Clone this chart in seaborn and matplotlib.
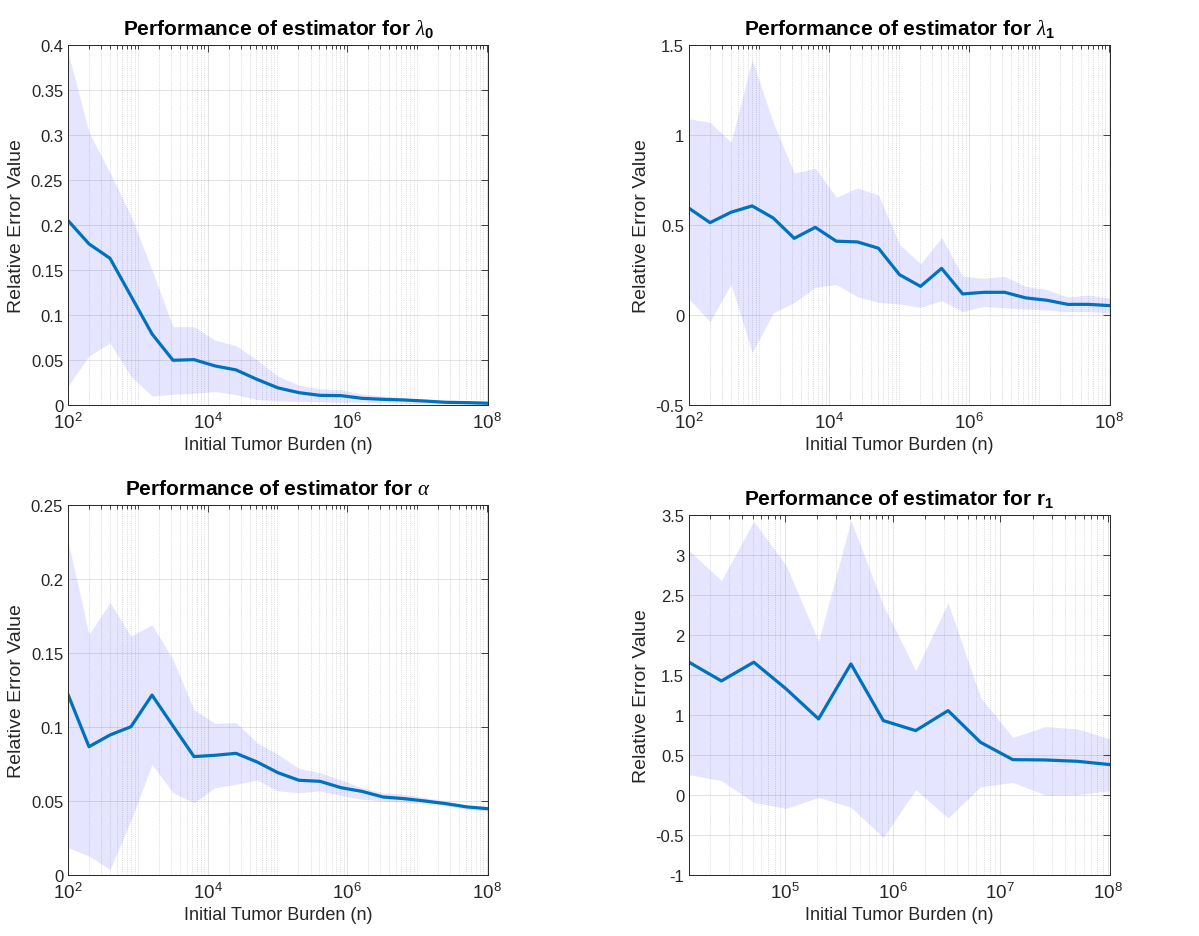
import numpy as np
import pandas as pd
import matplotlib
matplotlib.use('Agg')
import matplotlib.pyplot as plt
import seaborn as sns
from matplotlib.ticker import FixedLocator, FuncFormatter, MultipleLocator, NullFormatter

sns.set_theme(style='white')
plt.rcParams['font.family'] = ['Liberation Sans', 'DejaVu Sans']
plt.rcParams['mathtext.fontset'] = 'custom'
plt.rcParams['mathtext.rm'] = 'Liberation Sans'
plt.rcParams['mathtext.it'] = 'Liberation Serif:italic'
plt.rcParams['mathtext.bf'] = 'Liberation Sans:bold'

# initial tumour burden values (doubling from 100)
n_values = [100, 200, 400, 800, 1600, 3200, 6400, 12800, 25600, 51200, 102400,
            204800, 409600, 819200, 1638400, 3276800, 6553600, 13107200,
            26214400, 52428800, 104857600]

# lambda_0
lam0_mean = [0.205, 0.179, 0.163, 0.121, 0.079, 0.0497, 0.0504, 0.0434, 0.039, 0.0285,
             0.019, 0.0137, 0.0107, 0.0104, 0.0074, 0.0063, 0.0056, 0.0044, 0.003, 0.0026, 0.002]
lam0_upper = [0.392, 0.303, 0.258, 0.21, 0.15, 0.087, 0.087, 0.072, 0.066, 0.05,
              0.032, 0.022, 0.018, 0.017, 0.012, 0.01, 0.008, 0.006, 0.004, 0.003, 0.0025]
lam0_lower = [0.021, 0.0545, 0.069, 0.032, 0.01, 0.012, 0.013, 0.015, 0.0115, 0.006,
              0.0045, 0.004, 0.0037, 0.003, 0.003, 0.0025, 0.002, 0.0015, 0.001, 0.001, 0.001]

# lambda_1
lam1_mean = [0.593, 0.513, 0.571, 0.606, 0.539, 0.426, 0.487, 0.41, 0.406, 0.371,
             0.224, 0.159, 0.259, 0.117, 0.126, 0.126, 0.095, 0.082, 0.059, 0.059, 0.052]
lam1_upper = [1.09, 1.07, 0.96, 1.418, 1.07, 0.788, 0.816, 0.654, 0.706, 0.667,
              0.393, 0.284, 0.43, 0.215, 0.204, 0.215, 0.159, 0.141, 0.1, 0.111, 0.093]
lam1_lower = [0.089, -0.037, 0.172, -0.208, 0.011, 0.07, 0.154, 0.169, 0.102, 0.07,
              0.061, 0.043, 0.08, 0.019, 0.048, 0.039, 0.033, 0.028, 0.019, 0.019, 0.011]

# alpha
alpha_mean = [0.122, 0.0867, 0.0946, 0.1002, 0.1216, 0.1007, 0.08, 0.0809, 0.0822, 0.0764,
              0.0691, 0.064, 0.0633, 0.059, 0.0565, 0.0527, 0.0516, 0.05, 0.0482, 0.046, 0.0448]
alpha_upper = [0.2257, 0.1626, 0.184, 0.1615, 0.169, 0.1457, 0.1115, 0.1025, 0.103, 0.0894,
               0.0815, 0.072, 0.0691, 0.0642, 0.059, 0.0556, 0.0545, 0.0523, 0.05, 0.0471, 0.0462]
alpha_lower = [0.0185, 0.0128, 0.0038, 0.037, 0.0748, 0.0556, 0.0489, 0.059, 0.0613, 0.0642,
               0.0568, 0.0556, 0.0568, 0.0538, 0.0511, 0.05, 0.0493, 0.0482, 0.0466, 0.0444, 0.0432]

# r_1 (only from n = 12800)
r1_n = n_values[7:]
r1_mean = [1.66, 1.426, 1.66, 1.326, 0.951, 1.639, 0.93, 0.805, 1.055, 0.659,
           0.442, 0.438, 0.421, 0.38]
r1_upper = [3.057, 2.68, 3.42, 2.87, 1.92, 3.43, 2.37, 1.555, 2.4, 1.22,
            0.72, 0.855, 0.826, 0.70]
r1_lower = [0.254, 0.18, -0.092, -0.167, -0.03, -0.154, -0.53, 0.067, -0.288, 0.104,
            0.158, 0.0, 0.004, 0.054]

# x tick exponents shown on each panel
exp_even = [2, 4, 6, 8]
exp_r1 = [5, 6, 7, 8]

LINE = '#0072BD'
FILL = '#E5E5FF'
DARK = '#262626'

W, H = 1199, 937
fig = plt.figure(figsize=(W / 100, H / 100), dpi=100)


def px_rect(left, top, right, bottom):
    return [left / W, 1 - bottom / H, (right - left) / W, (bottom - top) / H]


def minor_ticks(lo, hi):
    out = []
    for e in range(1, 10):
        for m in range(1, 10):
            v = m * 10 ** e
            if lo <= v <= hi:
                out.append(v)
    return out


panels = [
    dict(rect=px_rect(68, 46, 488, 406), n=n_values, mean=lam0_mean, lo=lam0_lower, hi=lam0_upper,
         title=r'Performance of estimator for $\lambda_{\mathbf{0}}$', ylim=(0, 0.4), ystep=0.05,
         exps=exp_even),
    dict(rect=px_rect(689, 46, 1110, 406), n=n_values, mean=lam1_mean, lo=lam1_lower, hi=lam1_upper,
         title=r'Performance of estimator for $\lambda_{\mathbf{1}}$', ylim=(-0.5, 1.5), ystep=0.5,
         exps=exp_even),
    dict(rect=px_rect(68, 506, 488, 876), n=n_values, mean=alpha_mean, lo=alpha_lower, hi=alpha_upper,
         title=r'Performance of estimator for $\alpha$', ylim=(0, 0.25), ystep=0.05,
         exps=exp_even),
    dict(rect=px_rect(689, 516, 1110, 876), n=r1_n, mean=r1_mean, lo=r1_lower, hi=r1_upper,
         title=r'Performance of estimator for r$_{\mathbf{1}}$', ylim=(-1, 3.5), ystep=0.5,
         exps=exp_r1),
]

for p in panels:
    ax = fig.add_axes(p['rect'])
    df = pd.DataFrame({'n': p['n'], 'mean': p['mean'], 'lo': p['lo'], 'hi': p['hi']})
    ax.set_xscale('log')
    ax.fill_between(df['n'], df['lo'], df['hi'], color=FILL, lw=0, zorder=1)
    sns.lineplot(data=df, x='n', y='mean', ax=ax, color=LINE, lw=2.3, zorder=3)
    xmin, xmax = df['n'].min(), df['n'].max()
    ax.set_xlim(xmin, xmax)
    ax.set_ylim(*p['ylim'])
    ax.yaxis.set_major_locator(MultipleLocator(p['ystep']))
    ax.yaxis.set_major_formatter(FuncFormatter(lambda v, pos: f'{v:g}' if abs(v) > 1e-12 else '0'))
    majors = [10.0 ** e for e in p['exps']]
    ax.xaxis.set_major_locator(FixedLocator(majors))
    ax.set_xticklabels([f'$\\mathdefault{{10^{{{e}}}}}$' for e in p['exps']])
    ax.xaxis.set_minor_locator(FixedLocator([v for v in minor_ticks(xmin, xmax) if v not in majors]))
    ax.xaxis.set_minor_formatter(NullFormatter())
    ax.grid(True, which='major', color=DARK, alpha=0.15, lw=0.6)
    ax.grid(True, which='minor', axis='x', color=DARK, alpha=0.28, lw=0.5, ls=':')
    ax.set_axisbelow(False)
    for s in ax.spines.values():
        s.set_color(DARK)
        s.set_linewidth(0.7)
        s.set_zorder(4)
    ax.tick_params(which='both', direction='in', top=True, right=True, colors=DARK, width=0.6)
    ax.tick_params(axis='y', labelsize=12)
    ax.tick_params(axis='x', labelsize=13.5, pad=5)
    ax.tick_params(which='major', length=5)
    ax.tick_params(which='minor', length=3)
    ax.set_title(p['title'], fontsize=15, fontweight='bold', color='black', pad=8)
    ax.set_xlabel('Initial Tumor Burden (n)', fontsize=13, color=DARK, labelpad=3)
    ax.set_ylabel('Relative Error Value', fontsize=14, color=DARK, labelpad=4)

fig.savefig('out.png', dpi=100)
